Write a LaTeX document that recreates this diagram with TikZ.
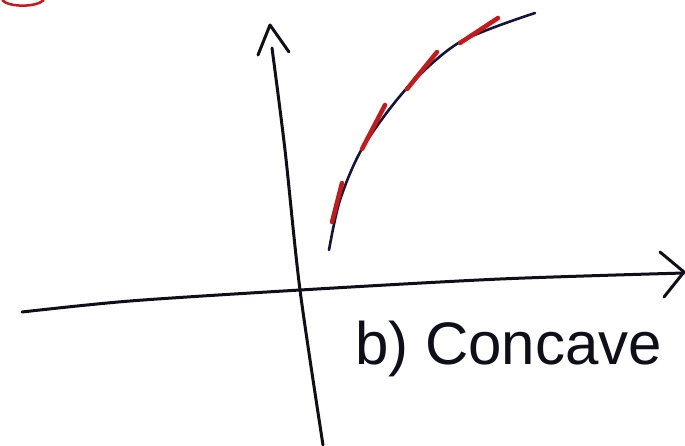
\documentclass[tikz,border=0pt]{standalone}
\usepackage{fontspec}
\setmainfont{Liberation Sans}
\definecolor{inkblack}{RGB}{15,15,25}
\definecolor{inknavy}{RGB}{20,20,60}
\definecolor{inkred}{RGB}{200,25,25}
\usetikzlibrary{calc}

\begin{document}
\begin{tikzpicture}[x=1pt, y=-1pt,
    axisline/.style={inkblack, line width=3pt, line cap=round, line join=round},
    curveline/.style={inknavy, line width=2.6pt, line cap=round},
    redmark/.style={inkred, line width=4.5pt, line cap=round},
    lbl/.style={font=\fontsize{60}{64}\selectfont, inkblack, inner sep=0pt}
  ]
    \useasboundingbox (0,0) rectangle (685,445);
    \clip (0,0) rectangle (685,445);

    % axes
    \draw[axisline] plot[smooth] coordinates {(22,312) (130,301) (300,290) (500,279) (684,273)};
    \draw[axisline] plot[smooth] coordinates {(272,48) (285,150) (300,290) (323,445)};
    \draw[axisline] (660,252) -- (684,272) -- (664,297);
    \draw[axisline] (258,55) -- (270,25) -- (289,52);

    % concave curve
    \draw[curveline] plot[smooth] coordinates {(329,250) (340,200) (363,147) (407,88) (460,42) (535,13)};

    % red tangent marks
    \draw[redmark] (332,222) -- (342,183);
    \draw[redmark] (362,149) -- (385,105);
    \draw[redmark] (407,89) -- (437,52);
    \draw[redmark] (460,43) -- (498,18);

    % corner mark
    \draw[inkred, line width=2.5pt] (2,0) .. controls (8,7) and (35,8) .. (44,0);

    \node[lbl, anchor=base west] (caption) at (355,364) {b) Concave};
\end{tikzpicture}
\end{document}
